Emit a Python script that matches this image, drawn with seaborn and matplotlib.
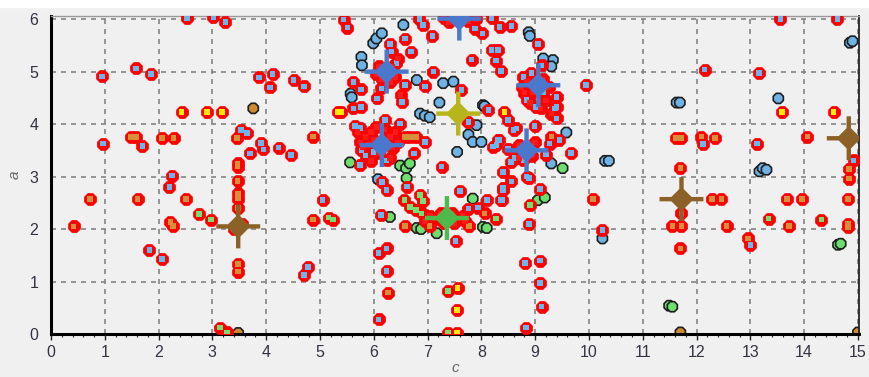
import matplotlib
matplotlib.use("Agg")
import matplotlib.pyplot as plt
from matplotlib.path import Path
from matplotlib.patches import Rectangle
from matplotlib.ticker import MultipleLocator
import pandas as pd
import seaborn as sns

# ---- red-rimmed markers, by fill colour ----
blue_c = [0.95, 1.58, 1.86, 2.53, 3.02, 3.24, 0.97, 1.70, 2.25, 2.20, 3.53, 3.64, 3.70, 3.90, 3.95,
          4.23, 4.46, 3.87, 4.12, 4.07, 4.51, 4.70, 1.83, 2.06, 5.05, 4.78, 4.70,
          6.24, 6.13, 6.09, 6.24, 6.24, 6.09, 6.62, 6.15, 7.52, 7.60, 7.76, 7.94, 8.10, 8.39, 8.40,
          9.09, 8.89, 8.81, 9.09, 9.09, 9.12, 8.83, 7.26,
          5.51, 5.44, 6.58, 6.69, 6.30, 6.42, 6.33, 6.91, 7.09, 6.85, 7.11, 7.82, 7.88, 8.02, 8.19,
          8.34, 8.56, 8.19, 8.31, 8.27, 8.36, 9.05, 9.12, 9.95,
          5.62, 5.76, 6.06, 6.14, 6.52, 6.58, 6.95, 7.63,
          5.62, 5.76, 5.65, 5.75, 6.21, 6.49, 6.95, 6.75, 5.74, 5.77, 6.24, 6.00, 5.85,
          8.13, 8.50, 8.60, 8.28, 8.31, 8.99, 9.27, 9.45, 9.67, 8.78, 8.84, 8.55, 9.40, 9.40, 9.40,
          8.84, 9.02, 9.37, 8.65, 8.33, 8.22, 8.62, 8.40, 8.56, 8.89, 8.40, 8.37, 7.76, 8.50, 9.20,
          8.78, 8.93, 9.15,
          10.25, 12.15, 13.16, 13.56, 14.62, 12.12, 13.12, 14.92, 13.00]
blue_a = [4.91, 5.06, 4.95, 6.02, 6.04, 5.95, 3.63, 3.58, 3.02, 2.80, 3.89, 3.83, 3.44, 3.64, 3.52,
          3.55, 3.41, 4.89, 4.95, 4.70, 4.84, 4.72, 1.60, 1.43, 2.55, 1.28, 1.12,
          2.74, 2.27, 1.54, 1.63, 1.20, 0.28, 2.81, 2.90, 1.77, 2.72, 2.39, 2.41, 2.55, 2.55, 2.78,
          2.76, 2.10, 1.35, 1.40, 0.97, 0.52, 0.12, 3.19,
          5.84, 5.99, 5.63, 5.38, 5.53, 5.16, 5.38, 5.89, 5.68, 6.00, 5.00, 5.23, 5.82, 5.73, 6.02,
          5.85, 5.87, 5.41, 5.41, 5.21, 5.01, 5.53, 5.12, 4.74,
          4.80, 4.66, 4.49, 4.68, 4.42, 4.74, 4.72, 4.65,
          4.30, 4.33, 3.96, 3.93, 4.08, 4.01, 3.66, 3.44, 3.22, 3.50, 3.31, 3.47, 3.40,
          4.27, 4.08, 3.89, 3.60, 3.70, 3.96, 3.63, 3.70, 3.45, 3.31, 3.00, 3.28, 4.33, 4.11, 4.52,
          4.46, 4.33, 4.30, 3.92, 3.70, 3.57, 3.35, 3.09, 2.91, 2.97, 2.74, 2.55, 4.04, 3.53, 3.42,
          4.90, 4.97, 4.60,
          1.98, 5.04, 4.97, 6.00, 6.00, 3.62, 3.63, 3.31, 1.70]

orange_c = [1.49, 1.58, 2.06, 2.28, 3.46, 3.47, 3.47, 3.47, 4.87,
            0.42, 0.72, 1.61, 2.51, 2.22, 2.27, 3.48, 3.48, 3.48, 3.48, 3.48, 3.48, 3.40, 3.55,
            4.87, 6.26, 6.58, 7.04, 7.77, 8.06, 6.58, 6.67, 6.79, 9.30,
            10.08, 11.55, 11.72, 11.70, 11.72, 11.72, 12.29, 12.46, 12.56, 12.96, 13.68, 13.96, 13.72,
            14.82, 14.82, 14.82, 11.62, 11.72, 12.09, 12.34, 14.06, 14.83, 14.83, 14.83, 11.70]
orange_a = [3.75, 3.75, 3.73, 3.73, 3.73, 3.25, 3.19, 2.92, 3.76,
            2.05, 2.57, 2.57, 2.57, 2.13, 2.06, 2.58, 2.68, 2.40, 1.33, 1.19, 2.05, 2.00, 2.10,
            2.18, 0.79, 2.06, 2.06, 2.06, 2.30, 3.75, 3.75, 3.75, 3.76,
            2.57, 2.06, 2.06, 1.63, 2.30, 2.57, 2.57, 2.57, 2.06, 1.82, 2.57, 2.57, 2.06,
            2.57, 2.03, 2.10, 3.73, 3.73, 3.76, 3.73, 3.76, 3.73, 3.14, 2.96, 3.16]

red_c = [5.85, 5.95, 6.05, 5.90, 6.00, 6.30, 6.35, 6.40, 5.80, 6.10, 6.30, 5.95, 6.20, 6.45, 5.75, 5.70,
         6.10, 6.35, 6.15, 6.40, 6.45, 6.05, 6.30, 6.50,
         8.85, 8.80, 9.15, 9.20, 8.95, 9.25, 8.90, 9.10, 8.75, 9.30,
         8.70, 8.95, 8.70, 9.00, 8.60,
         7.15, 7.25, 7.45, 7.55, 7.65, 7.30, 7.50, 7.70, 7.05, 6.95,
         7.40, 7.75, 7.30, 7.90]
red_a = [3.75, 3.85, 3.95, 3.60, 3.70, 3.75, 3.55, 3.85, 3.55, 3.45, 3.35, 3.30, 3.90, 3.65, 3.65, 3.85,
         5.10, 5.10, 4.85, 4.90, 5.25, 4.95, 4.80, 4.55,
         4.80, 4.60, 4.85, 4.45, 4.60, 4.70, 4.40, 4.30, 4.70, 4.20,
         3.60, 3.40, 3.35, 3.65, 3.50,
         2.20, 2.30, 2.30, 2.20, 2.25, 2.12, 2.12, 2.15, 2.25, 2.15,
         5.95, 5.97, 6.02, 6.00]

yellow_c = [2.43, 2.90, 3.18, 5.34, 5.40, 8.43, 13.59, 14.55, 7.56, 7.55, 7.55]
yellow_a = [4.23, 4.23, 4.23, 4.23, 4.23, 4.23, 4.23, 4.23, 0.88, 0.46, 0.02]

green_c = [2.75, 2.97, 5.16, 5.24, 6.57, 6.67, 6.86, 6.91, 6.89, 6.78, 8.27, 8.90, 7.38, 7.38,
           3.14, 3.27, 13.34, 14.32]
green_a = [2.29, 2.18, 2.22, 2.18, 2.55, 2.42, 2.65, 2.53, 2.30, 2.36, 2.20, 2.46, 0.82, 0.02,
           0.12, 0.03, 2.20, 2.18]

# ---- dark-rimmed markers ----
dblue_c = [6.55, 5.99, 6.05, 6.15, 5.77, 5.78, 6.80, 7.29, 7.48, 7.22, 6.86, 6.95, 7.04, 7.91, 7.76,
           7.84, 8.00, 7.55, 8.03, 8.06, 5.57, 5.59, 8.88, 8.90, 9.33, 9.30, 9.15, 9.58, 9.30, 6.08,
           10.25, 10.30, 10.37, 11.63, 11.69, 13.52, 14.85, 14.90, 13.17, 13.23, 13.30]
dblue_a = [5.89, 5.54, 5.63, 5.73, 5.28, 5.12, 4.84, 4.78, 4.81, 4.41, 4.20, 4.16, 4.13, 3.98, 3.80,
           3.66, 3.66, 3.47, 4.36, 4.34, 4.58, 4.51, 5.75, 5.68, 5.22, 5.10, 5.25, 3.84, 3.25, 2.95,
           1.82, 3.30, 3.30, 4.41, 4.41, 4.49, 5.55, 5.58, 3.10, 3.16, 3.13]

dgreen_c = [5.56, 6.49, 6.60, 6.67, 6.61, 6.30, 6.80, 6.88, 7.17, 8.03, 8.10, 7.84, 9.05, 9.18,
            9.51, 11.49, 11.55, 14.63, 14.68]
dgreen_a = [3.27, 3.21, 3.16, 3.25, 2.97, 2.23, 2.02, 2.00, 1.92, 2.04, 2.02, 2.58, 2.55, 2.60,
            3.16, 0.54, 0.52, 1.70, 1.72]

dorange_c = [3.76, 3.48, 11.70, 15.00]
dorange_a = [4.30, 0.02, 0.03, 0.03]

# ---- cluster centres ----
centre_c = [6.24, 9.06, 6.15, 8.84, 7.59, 7.57, 7.36, 3.48, 11.72, 14.83]
centre_a = [5.00, 4.74, 3.60, 3.50, 6.01, 4.20, 2.21, 2.05, 2.57, 3.73]
centre_group = ["blue", "blue", "blue", "blue", "blue", "yellow", "green", "brown", "brown", "brown"]

rim_fill = {"blue": "#6cb6ee", "orange": "#d4913a", "red": "#ff1a1a",
            "yellow": "#ffec00", "green": "#74e074"}
dark_fill = {"blue": "#6fb3e6", "green": "#6ede6e", "orange": "#d08a30"}
centre_fill = {"blue": "#4a78cc", "yellow": "#b8b41c", "green": "#4cbb4c", "brown": "#8c6128"}


def frame(cs, as_, group):
    return pd.DataFrame({"c": cs, "a": as_, "group": [group] * len(cs)})


rimmed = pd.concat([frame(orange_c, orange_a, "orange"),
                    frame(blue_c, blue_a, "blue"),
                    frame(green_c, green_a, "green"),
                    frame(yellow_c, yellow_a, "yellow"),
                    frame(red_c, red_a, "red")], ignore_index=True)
dark = pd.concat([frame(dblue_c, dblue_a, "blue"),
                  frame(dgreen_c, dgreen_a, "green"),
                  frame(dorange_c, dorange_a, "orange")], ignore_index=True)
centres = pd.DataFrame({"c": centre_c, "a": centre_a, "group": centre_group})


def four_point_star(arm=0.1, body=0.56):
    """Outline of a plus with a diamond body."""
    a, d = arm, body
    verts = [(1, -a), (1, a), (d - a, a), (a, d - a), (a, 1), (-a, 1), (-a, d - a),
             (-(d - a), a), (-1, a), (-1, -a), (-(d - a), -a), (-a, -(d - a)),
             (-a, -1), (a, -1), (a, -(d - a)), (d - a, -a), (1, -a)]
    codes = [Path.MOVETO] + [Path.LINETO] * (len(verts) - 2) + [Path.CLOSEPOLY]
    return Path(verts, codes)


sns.set_style("ticks")
plt.rcParams["font.family"] = ["Liberation Sans", "DejaVu Sans"]

fig = plt.figure(figsize=(8.69, 3.77), dpi=100, facecolor="#f0f0f0")
fig.patches.append(Rectangle((0, 1 - 7 / 377), 1, 7 / 377, transform=fig.transFigure,
                             color="white", zorder=0))
ax = fig.add_axes([51 / 869, 1 - 334 / 377, 808 / 869, 318 / 377])
ax.set_facecolor("#f0f0f0")

sns.scatterplot(data=dark, x="c", y="a", hue="group", palette=dark_fill, marker="8",
                s=62, edgecolor="#1e1e1e", linewidth=1.2, legend=False, ax=ax, zorder=2)
# red rounded rims, then the small coloured squares inside them
sns.scatterplot(data=rimmed, x="c", y="a", color="#ff0000", marker="8",
                s=98, linewidth=0, legend=False, ax=ax, zorder=3)
sns.scatterplot(data=rimmed, x="c", y="a", hue="group", palette=rim_fill, marker="s",
                s=16, linewidth=0, legend=False, ax=ax, zorder=3)
sns.scatterplot(data=centres, x="c", y="a", hue="group", palette=centre_fill,
                marker=four_point_star(), s=1000, linewidth=0, legend=False, ax=ax, zorder=4)

ax.set_xlim(0, 15.02)
ax.set_ylim(0, 6.06)
ax.xaxis.set_major_locator(MultipleLocator(1))
ax.xaxis.set_minor_locator(MultipleLocator(0.2))
ax.yaxis.set_major_locator(MultipleLocator(1))
ax.set_axisbelow(True)
ax.grid(True, which="major", linestyle=(0, (3, 3)), color="#858585", linewidth=1.2)

ax.tick_params(axis="x", which="major", length=4, width=1, color="#222", pad=4,
               labelsize=11.5, labelcolor="#333344")
ax.tick_params(axis="x", which="minor", length=2.5, width=0.8, color="#222")
ax.tick_params(axis="y", which="major", length=0, pad=9, labelsize=11.5, labelcolor="#333344")

for side in ("left", "bottom"):
    ax.spines[side].set_linewidth(2.2)
    ax.spines[side].set_color("black")
ax.spines["right"].set_linewidth(1.3)
ax.spines["right"].set_color("#222")
ax.spines["top"].set_linewidth(1.0)
ax.spines["top"].set_color("#9a9a9a")

ax.set_xlabel("c", fontsize=11, color="#666", labelpad=1, style="italic")
ax.set_ylabel("a", fontsize=11, color="#666", labelpad=6, style="italic")

fig.savefig("out.png", dpi=100, facecolor=fig.get_facecolor())
